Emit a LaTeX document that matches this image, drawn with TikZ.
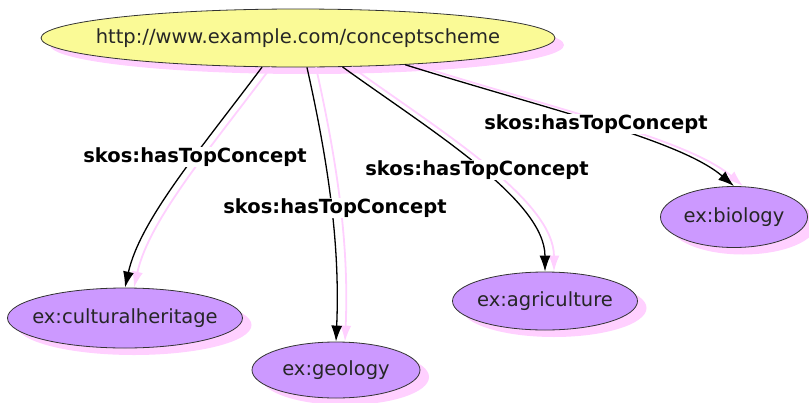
\documentclass[tikz,border=0pt]{standalone}
\usepackage{fontspec}
\setmainfont{DejaVu Sans}
\usetikzlibrary{arrows,arrows.meta,positioning,shapes,shadows}

\definecolor{schemeyellow}{RGB}{250,250,150}
\definecolor{conceptpurple}{RGB}{204,153,255}
\definecolor{shadowpink}{RGB}{255,208,255}

\tikzset{
  pinkshadow/.style={drop shadow={shadow xshift=9pt,shadow yshift=-7pt,fill=shadowpink,opacity=1}},
  scheme/.style={ellipse,draw=black!80,line width=0.8pt,fill=schemeyellow,inner xsep=-30pt,inner ysep=0pt,
    pinkshadow,text=black!85,font=\fontsize{19.5}{23}\selectfont},
  concept/.style={ellipse,draw=black!80,line width=0.8pt,fill=conceptpurple,inner xsep=-30pt,inner ysep=0pt,
    pinkshadow,text=black!85,font=\fontsize{19.5}{23}\selectfont},
  hastop/.style={line width=1.3pt,-{Latex[length=16pt,width=11pt]}},
  hastopshadow/.style={hastop,line width=1.8pt,draw=shadowpink,transform canvas={shift={(9pt,0pt)}}},
  relname/.style={fill=white,inner sep=1pt,font=\bfseries\fontsize{19.5}{23}\selectfont}
}

\begin{document}
\begin{tikzpicture}[x=1pt,y=-1pt]
    \useasboundingbox (0,0) rectangle (809,402);

    \node[scheme,minimum width=514pt,minimum height=58pt] (scheme) at (298,38) {http://www.example.com/conceptscheme};

    \node[concept,minimum width=235pt,minimum height=60pt] (heritage) at (125,318) {ex:culturalheritage};
    \node[concept,minimum width=168pt,minimum height=56pt] (geology) at (336,370) {ex:geology};
    \node[concept,minimum width=185pt,minimum height=58pt] (agriculture) at (545,301) {ex:agriculture};
    \node[concept,minimum width=147pt,minimum height=61pt] (biology) at (734,217) {ex:biology};

    \foreach \from/\ax/\ay/\bx/\by/\to in {scheme.219/200/150/140/220/heritage,
        scheme.287/330/170/340/250/geology,scheme.327/430/130/545/200/agriculture,
        scheme.346/550/110/680/140/biology}
    {
        \draw[hastopshadow] (\from) .. controls (\ax,\ay) and (\bx,\by) .. (\to.north);
        \draw[hastop] (\from) .. controls (\ax,\ay) and (\bx,\by) .. (\to.north);
    }

    \node[relname] (rel1) at (195,157) {skos:hasTopConcept};
    \node[relname] (rel2) at (335,208) {skos:hasTopConcept};
    \node[relname] (rel3) at (477,170) {skos:hasTopConcept};
    \node[relname] (rel4) at (596,124) {skos:hasTopConcept};
\end{tikzpicture}
\end{document}
